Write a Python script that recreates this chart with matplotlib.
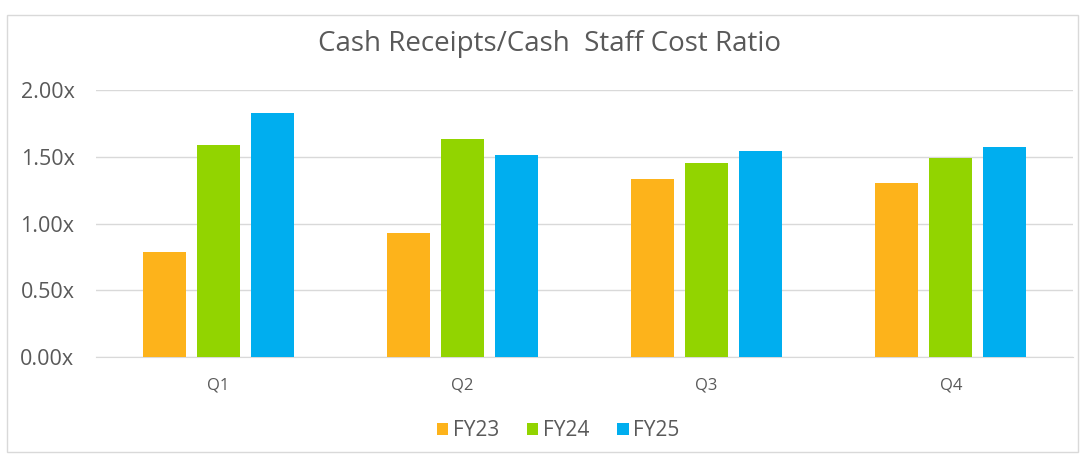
import matplotlib
matplotlib.use("Agg")
import matplotlib.pyplot as plt
from matplotlib.patches import Rectangle
from matplotlib.ticker import FuncFormatter
import numpy as np

categories = ["Q1", "Q2", "Q3", "Q4"]
series_names = ["FY23", "FY24", "FY25"]
fy23 = [0.79, 0.93, 1.33, 1.30]
fy24 = [1.59, 1.63, 1.45, 1.49]
fy25 = [1.83, 1.51, 1.54, 1.57]
yticks = [0.0, 0.5, 1.0, 1.5, 2.0]
colors = ["#FDB31B", "#92D400", "#00AEEF"]
title = "Cash Receipts/Cash  Staff Cost Ratio"

plt.rcParams['font.family'] = ['Open Sans', 'DejaVu Sans']

fig = plt.figure(figsize=(10.85, 4.59), dpi=100)
fig.patch.set_facecolor("white")
# outer chart border
fig.patches.append(Rectangle((7/1085, 7/459), 1 - 14/1085, 1 - 22/459,
                             transform=fig.transFigure, fill=False,
                             edgecolor="#d9d9d9", linewidth=1.0))

ax = fig.add_axes([96/1085, 1 - 357/459, (1073 - 96)/1085, (357 - 90)/459])
x = np.arange(len(categories))
w = 0.176
step = 0.221
for i, (vals, c, name) in enumerate(zip([fy23, fy24, fy25], colors, series_names)):
    ax.bar(x + (i - 1) * step, vals, width=w, color=c, label=name, zorder=3)

ax.set_xlim(-0.5, len(categories) - 0.5)
ax.set_ylim(0, 2.0)
ax.set_yticks(yticks)
ax.yaxis.set_major_formatter(FuncFormatter(lambda v, p: f"{v:.2f}x"))
ax.set_xticks(x)
ax.set_xticklabels(categories)
ax.grid(axis="y", color="#d9d9d9", linewidth=1.0, zorder=0)
for s in ["top", "right", "left"]:
    ax.spines[s].set_visible(False)
ax.spines["bottom"].set_color("#d9d9d9")
ax.tick_params(axis="y", length=0, labelsize=15.5, labelcolor="#595959", pad=15.5)
ax.tick_params(axis="x", length=0, labelsize=12, labelcolor="#595959", pad=14.5)

fig.text(550/1085, 1 - 44/459, title, ha="center", va="center", fontsize=20, color="#595959")

leg = fig.legend(loc="center", bbox_to_anchor=(558/1085, 1 - 431/459), ncol=3, frameon=False,
                 fontsize=15, handlelength=0.55, handleheight=0.55, handletextpad=0.2,
                 columnspacing=1.35)
for t in leg.get_texts():
    t.set_color("#595959")

fig.savefig("out.png", dpi=100, facecolor="white")
